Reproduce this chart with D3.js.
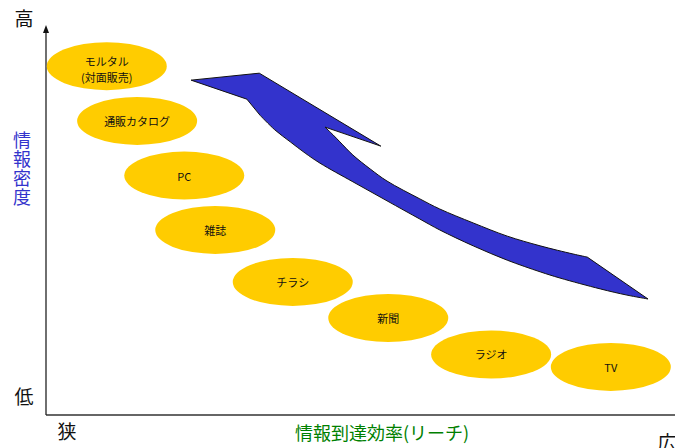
<!DOCTYPE html>
<html>
<head>
<meta charset="utf-8">
<script src="https://cdn.jsdelivr.net/npm/d3@7"></script>
<style>
  html, body { margin: 0; padding: 0; background: #fff; }
  svg { display: block; }
</style>
</head>
<body>
<svg id="chart" width="675" height="448"></svg>
<script>
// Media positioned by reach (x, 0-100) and information density (y, 0-100)
const media   = ["モルタル\n(対面販売)", "通販カタログ", "PC", "雑誌", "チラシ", "新聞", "ラジオ", "TV"];
const reach   = [9.8, 14.7, 22.3, 27.3, 39.8, 55.2, 71.8, 91.1];
const density = [89.9, 75.8, 61.7, 47.7, 34.3, 25.0, 15.6, 12.4];

// Trend arrow outline in the same (reach, density) units:
// head corners (straight edges), upper shaft edge, lower shaft edge (curved)
const headReach    = [32.4, 23.4, 34.4, 54.0];
const headDensity  = [81.4, 86.3, 88.1, 69.3];
const upperReach   = [45.0, 46.3, 47.4, 49.5, 52.3, 55.0, 60.3, 63.5, 68.9, 74.4, 79.7, 85.0, 87.3];
const upperDensity = [74.2, 72.2, 70.4, 67.0, 63.4, 60.3, 55.7, 53.1, 49.5, 46.1, 43.6, 41.5, 40.7];
const lowerReach   = [97.1, 93.7, 89.4, 82.9, 79.7, 74.4, 68.9, 63.5, 60.3, 55.0, 49.5, 44.2, 41.8, 39.4, 36.9, 34.5];
const lowerDensity = [29.9, 30.9, 32.5, 35.3, 36.9, 39.9, 43.6, 47.7, 50.5, 55.2, 60.1, 64.9, 67.5, 70.4, 73.5, 77.3];

// Axis end labels and titles
const yLabels = ["高", "低"];
const xLabels = ["狭", "広"];
const yTitle = "情報密度";
const xTitle = "情報到達効率(リーチ)";

const W = 675, H = 448;
const svg = d3.select("#chart");
const x = d3.scaleLinear().domain([0, 100]).range([46, 666]);
const y = d3.scaleLinear().domain([0, 100]).range([415, 27]);

const cjk = "'Noto Sans CJK JP', 'Noto Sans', sans-serif";

// Axes
svg.append("line")
  .attr("x1", x(0)).attr("x2", W)
  .attr("y1", y(0)).attr("y2", y(0))
  .attr("stroke", "#333").attr("stroke-width", 1.5);
svg.append("line")
  .attr("x1", x(0)).attr("x2", x(0))
  .attr("y1", y(0)).attr("y2", y(100) + 5)
  .attr("stroke", "#222").attr("stroke-width", 1.3);
svg.append("path")
  .attr("d", `M${x(0)},${y(100) - 2} L${x(0) - 3},${y(100) + 6} L${x(0) + 3},${y(100) + 6} Z`)
  .attr("fill", "#111");

// Media ellipses
const g = svg.append("g");
media.forEach((name, i) => {
  const cx = x(reach[i]), cy = y(density[i]);
  g.append("ellipse")
    .attr("cx", cx).attr("cy", cy)
    .attr("rx", 60).attr("ry", 24)
    .attr("fill", "#FFCC00");
  const lines = name.split("\n");
  const t = g.append("text")
    .attr("text-anchor", "middle")
    .attr("font-family", cjk)
    .attr("font-size", 11)
    .attr("fill", "#111");
  lines.forEach((ln, j) => {
    t.append("tspan")
      .attr("x", cx)
      .attr("y", cy + 5 + (lines.length > 1 ? 2.5 : 0) + (j - (lines.length - 1) / 2) * 16)
      .text(ln);
  });
});

// Trend arrow: straight head edges joined with smooth shaft edges
const toPx = (rs, ds) => rs.map((r, i) => [x(r), y(ds[i])]);
const straight = d3.line();
const smooth = d3.line().curve(d3.curveCatmullRom.alpha(0.5));
const arrowPath =
  straight(toPx(headReach, headDensity)) +
  smooth(toPx(upperReach, upperDensity)).replace(/^M/, "L") +
  smooth(toPx(lowerReach, lowerDensity)).replace(/^M/, "L") + "Z";
svg.append("path")
  .attr("d", arrowPath)
  .attr("fill", "#3333CC")
  .attr("stroke", "#111")
  .attr("stroke-width", 1)
  .attr("stroke-linejoin", "round");

// End labels
const endLabel = (tx, ty, s) => svg.append("text")
  .attr("x", tx).attr("y", ty).attr("text-anchor", "middle")
  .attr("font-family", cjk).attr("font-size", 19).attr("fill", "#111").text(s);
endLabel(24, 26, yLabels[0]);
endLabel(24, 404, yLabels[1]);
endLabel(67, 439, xLabels[0]);
endLabel(667, 450, xLabels[1]);

// Vertical y title
svg.append("text")
  .attr("x", 22).attr("y", 131)
  .style("writing-mode", "vertical-rl")
  .attr("font-family", cjk).attr("font-size", 18)
  .attr("letter-spacing", 1)
  .attr("fill", "#3333CC")
  .text(yTitle);

// x title
svg.append("text").attr("x", 382).attr("y", 440).attr("text-anchor", "middle")
  .attr("font-family", cjk).attr("font-size", 18).attr("fill", "#008000")
  .text(xTitle);
</script>
</body>
</html>
